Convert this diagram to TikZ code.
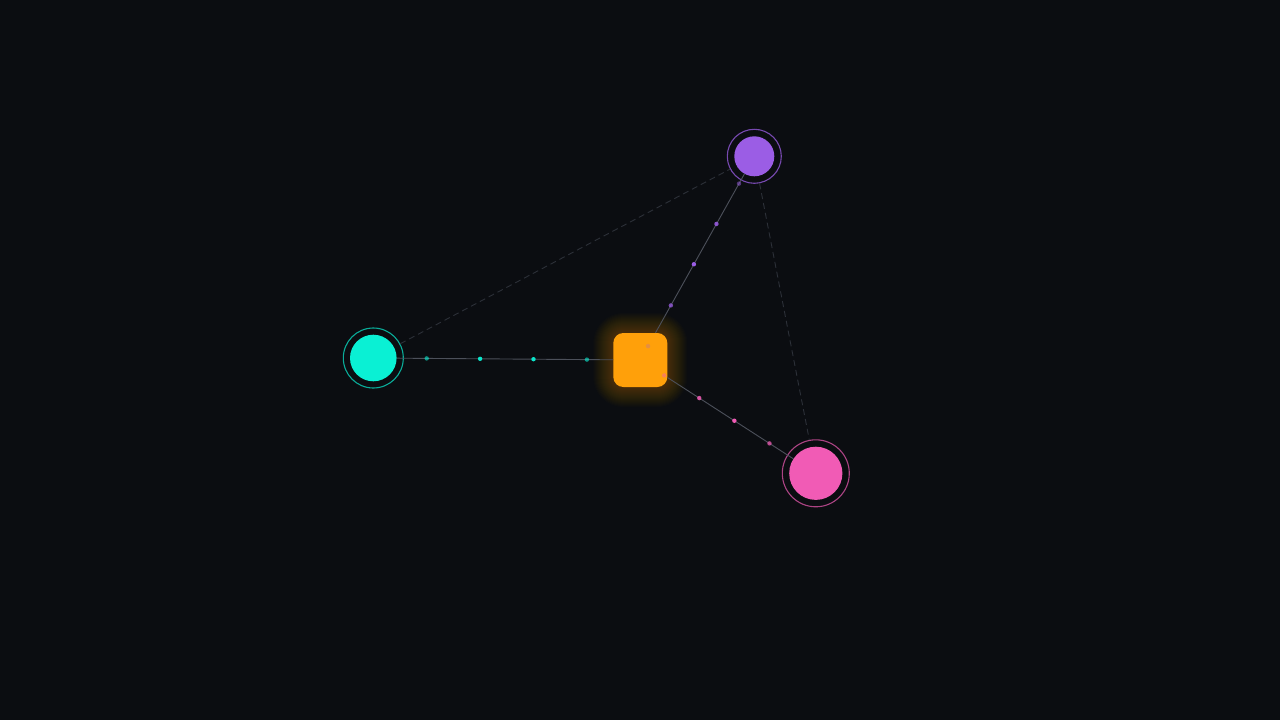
\documentclass[tikz,border=0pt]{standalone}
\usetikzlibrary{calc}
\definecolor{bg}{HTML}{0B0D11}
\definecolor{cy}{HTML}{0AF0D4}
\definecolor{pu}{HTML}{9B5DE5}
\definecolor{pk}{HTML}{F15BB5}
\definecolor{og}{HTML}{FFA00A}
\definecolor{edgec}{HTML}{4C505A}
\definecolor{dashc}{HTML}{2C3038}
\tikzset{
  ringnode/.style={circle, draw, line width=1.1pt, inner sep=0pt},
  corenode/.style={circle, inner sep=0pt},
  hubnode/.style={rectangle, rounded corners=10pt, fill=og, minimum size=54pt, inner sep=0pt},
  edgeline/.style={draw=edgec, line width=0.9pt},
  dashline/.style={draw=dashc, line width=0.9pt, dash pattern=on 6pt off 4pt},
  flowdot/.style={circle, inner sep=0pt, minimum size=4.4pt}
}
\begin{document}
\begin{tikzpicture}[x=1pt,y=-1pt]
\fill[bg] (0,0) rectangle (1280,720);
\useasboundingbox (0,0) rectangle (1280,720);

% glow behind hub
\foreach \s in {2,4,...,40} {
  \node[rectangle, rounded corners=10pt+\s*0.5pt, fill=og, fill opacity=0.014, minimum size=54pt+\s*1pt, inner sep=0pt] at (640.3,360) {};
}

% outer rings
\node[ringnode, draw=cy!70!bg, minimum size=60pt] (cyR) at (373.3,358) {};
\node[ringnode, draw=pu!75!bg, minimum size=54pt] (puR) at (754.3,156.3) {};
\node[ringnode, draw=pk!70!bg, minimum size=67pt] (pkR) at (815.8,473.3) {};

% dashed links between outer rings
\draw[dashline] (cyR) -- (puR);
\draw[dashline] (puR) -- (pkR);

% cores
\node[corenode, fill=cy, minimum size=46.6pt] (cyN) at (373.3,358) {};
\node[corenode, fill=pu, minimum size=40pt] (puN) at (754.3,156.3) {};
\node[corenode, fill=pk, minimum size=53.2pt] (pkN) at (815.8,473.3) {};

% hub
\node[hubnode] (hub) at (640.3,360) {};

% solid links
\draw[edgeline] (cyN) -- (hub);
\draw[edgeline] (hub) -- (puN);
\draw[edgeline] (hub) -- (pkN);

% flow dots
\path (cyN.center) -- (hub.center)
  node[flowdot, fill=cy, opacity=0.6, pos=0.2] (cd1) {}
  node[flowdot, fill=cy, opacity=0.95, pos=0.4] (cd2) {}
  node[flowdot, fill=cy, opacity=0.95, pos=0.6] (cd3) {}
  node[flowdot, fill=cy, opacity=0.6, pos=0.8] (cd4) {};
\path (hub.center) -- (puN.center)
  node[flowdot, fill=pu, opacity=0.25, pos=0.068] (pd0) {}
  node[flowdot, fill=pu, opacity=0.75, pos=0.268] (pd1) {}
  node[flowdot, fill=pu, opacity=1, pos=0.47] (pd2) {}
  node[flowdot, fill=pu, opacity=0.87, pos=0.668] (pd3) {}
  node[flowdot, fill=pu, opacity=0.5, pos=0.866] (pd4) {};
\path (hub.center) -- (pkN.center)
  node[flowdot, fill=pk, opacity=0.45, pos=0.136] (kd0) {}
  node[flowdot, fill=pk, opacity=0.87, pos=0.336] (kd1) {}
  node[flowdot, fill=pk, opacity=1, pos=0.536] (kd2) {}
  node[flowdot, fill=pk, opacity=0.75, pos=0.736] (kd3) {};
\end{tikzpicture}
\end{document}
